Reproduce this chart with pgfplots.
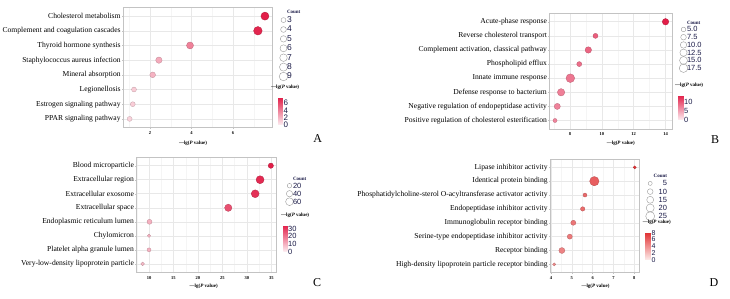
\documentclass[border=0pt]{standalone}
\usepackage{fontspec}
\setmainfont{Liberation Serif}
\setsansfont{Liberation Sans}
\usepackage{pgfplots}
\pgfplotsset{compat=1.18}

\definecolor{gridmaj}{RGB}{232,232,232}
\definecolor{gridmin}{RGB}{245,245,245}
\definecolor{frame}{RGB}{195,195,195}
\definecolor{navy}{RGB}{25,25,70}

\newcommand{\lgp}{\bfseries —lg(\textit{P} value)}

\pgfplotsset{
  colormap={pinkred}{rgb255=(253,238,242) rgb255=(226,30,72)},
  colormap={salmon}{rgb255=(253,238,236) rgb255=(225,50,52)},
  enrich/.style={
    scale only axis,
    anchor=north west,
    axis line style={draw=frame, line width=0.7pt},
    xmajorgrids, xminorgrids, ymajorgrids,
    major grid style={draw=gridmaj, line width=0.55pt},
    minor grid style={draw=gridmin, line width=0.4pt},
    ymin=0.4, ymax=8.6, ytick={1,...,8},
    tick align=outside, major tick length=1.2pt, minor tick length=0pt,
    tick style={draw=frame, line width=0.4pt},
    xtick pos=bottom, ytick pos=left,
    /pgf/number format/assume math mode=true,
    xticklabel style={font=\fontsize{4.5}{5}\selectfont\bfseries, inner sep=1pt, yshift=-1.5pt},
    yticklabel style={font=\fontsize{7.6}{8}\selectfont, inner sep=1pt},
    xlabel={\lgp},
    xlabel style={font=\fontsize{5}{6}\selectfont},
    colorbar,
    colorbar style={
      at={(parent axis.north east)},
      anchor=north west,
      axis line style={draw=none},
      ytick style={draw=none},
      major tick length=0pt,
      yticklabel style={font=\fontsize{8}{8}\sffamily, text=navy, inner sep=0.6pt},
      /pgf/number format/assume math mode=true,
      title={\lgp},
      title style={font=\fontsize{5}{6}\selectfont, anchor=south west, at={(0,1)}, inner sep=0pt},
    },
    legend style={draw=none, fill=none, inner sep=0pt, at={(1,1)}, anchor=north west,
      font=\fontsize{8.5}{9}\sffamily, text=navy,
      nodes={inner sep=0pt, text height=5pt, text depth=0pt}, column sep=2.5pt},
    legend cell align=left,
  },
  bub/.style={scatter, only marks, mark=*, forget plot,
    point meta=\thisrow{x},
    scatter/use mapped color={draw=mapped color!78!black, fill=mapped color},
    visualization depends on={#1*sqrt(\thisrow{c}) \as \rr},
    scatter/@pre marker code/.append style={/tikz/mark size=\rr},
    mark options={line width=0.3pt}},
  cnt/.style={legend image code/.code={\draw[overlay, draw=black!40, fill=none, line width=0.4pt] (0pt,0pt) circle (#1); \path[draw=none, fill=none] (-1pt,-1pt) rectangle (1pt,1pt);}},
  ttl/.style={legend image code/.code={\path[draw=none, fill=none] (-1pt,-1pt) rectangle (1pt,1pt);}},
}

\begin{document}
\begin{tikzpicture}
\useasboundingbox (0pt,0pt) rectangle (730pt,299pt);

% ---------------- A ----------------
\begin{axis}[enrich, at={(123pt,291.7pt)}, width=149pt, height=120.4pt,
  xmin=0.7, xmax=7.88, xtick={2,4,6}, minor xtick={1,3,5,7},
  colormap name=pinkred, point meta min=0, point meta max=7.54,
  yticklabels={PPAR signaling pathway, Estrogen signaling pathway, Legionellosis, Mineral absorption, Staphylococcus aureus infection, Thyroid hormone synthesis, Complement and coagulation cascades, Cholesterol metabolism},
  xlabel style={at={(axis description cs:0.47,0)}, anchor=center, yshift=-15.6pt},
  colorbar shift/.style={xshift=6pt, yshift=-90pt},
  colorbar style={width=4.7pt, height=27.7pt, ytick={0,2,4,6},
    title style={xshift=-7pt, yshift=1.5pt}},
  legend style={xshift=10.3pt, yshift=-0.7pt, row sep=4.4pt},
]
\addplot[bub=1.43] table {
x y c
7.54 8 8
7.20 7 9
3.93 6 6
2.43 5 5
2.13 4 4
1.23 3 3
1.17 2 3
1.02 1 3
};
\addlegendimage{ttl}\addlegendentry{\fontsize{5}{5}\rmfamily\bfseries Count}
\addlegendimage{cnt=2.48pt}\addlegendentry{3}
\addlegendimage{cnt=2.86pt}\addlegendentry{4}
\addlegendimage{cnt=3.2pt}\addlegendentry{5}
\addlegendimage{cnt=3.5pt}\addlegendentry{6}
\addlegendimage{cnt=3.78pt}\addlegendentry{7}
\addlegendimage{cnt=4.04pt}\addlegendentry{8}
\addlegendimage{cnt=4.29pt}\addlegendentry{9}
\end{axis}

% ---------------- B ----------------
\begin{axis}[enrich, at={(549.3pt,285.7pt)}, width=123.4pt, height=115.7pt,
  xmin=6.7, xmax=14.45, xtick={8,10,12,14}, minor xtick={7,9,11,13},
  colormap name=pinkred, point meta min=0, point meta max=14.0,
  yticklabels={Positive regulation of cholesterol esterification, Negative regulation of endopeptidase activity, Defense response to bacterium, Innate immune response, Phospholipid efflux, {Complement activation, classical pathway}, Reverse cholesterol transport, Acute-phase response},
  xlabel style={at={(axis description cs:0.58,0)}, anchor=center, yshift=-14pt},
  colorbar shift/.style={xshift=5.3pt, yshift=-81.7pt},
  colorbar style={width=5.3pt, height=25pt, ytick={0,5,10},
    yticklabel style={font=\fontsize{7.5}{8}\sffamily},
    title style={xshift=-3pt, yshift=1.5pt}},
  legend style={xshift=9.6pt, yshift=-5.7pt, row sep=2.75pt, font=\fontsize{7.5}{8}\sffamily},
]
\addplot[bub=1.025] table {
x y c
14.00 8 10
9.60 7 6
9.15 6 10
8.58 5 6
8.02 4 18
7.44 3 13
7.20 2 9
7.06 1 4
};
\addlegendimage{ttl}\addlegendentry{\fontsize{5}{5}\rmfamily\bfseries Count}
\addlegendimage{cnt=2.29pt}\addlegendentry{5.0}
\addlegendimage{cnt=2.81pt}\addlegendentry{7.5}
\addlegendimage{cnt=3.24pt}\addlegendentry{10.0}
\addlegendimage{cnt=3.62pt}\addlegendentry{12.5}
\addlegendimage{cnt=3.97pt}\addlegendentry{15.0}
\addlegendimage{cnt=4.29pt}\addlegendentry{17.5}
\end{axis}

% ---------------- C ----------------
\begin{axis}[enrich, at={(136.3pt,141.7pt)}, width=140.4pt, height=115pt,
  xmin=7.4, xmax=36.1, xtick={10,15,...,35}, minor xtick={7.5,12.5,...,32.5},
  colormap name=pinkred, point meta min=0, point meta max=34.9,
  yticklabels={Very-low-density lipoprotein particle, Platelet alpha granule lumen, Chylomicron, Endoplasmic reticulum lumen, Extracellular space, Extracellular exosome, Extracellular region, Blood microparticle},
  xlabel style={at={(axis description cs:0.48,0)}, anchor=center, yshift=-13.7pt},
  colorbar shift/.style={xshift=6.6pt, yshift=-67.7pt},
  colorbar style={width=4pt, height=26.7pt, ytick={0,10,20,30},
    yticklabel style={font=\fontsize{7.5}{8}\sffamily},
    title style={xshift=-2.3pt, yshift=1.5pt}},
  legend style={xshift=11.6pt, yshift=-17.7pt, row sep=3pt, font=\fontsize{7.5}{8}\sffamily},
]
\addplot[bub=0.5] table {
x y c
34.9 8 28
32.7 7 64
31.7 6 62
26.2 5 53
10.1 4 25
10.0 3 11
10.0 2 16
8.7 1 14
};
\addlegendimage{ttl}\addlegendentry{\fontsize{5}{5}\rmfamily\bfseries Count}
\addlegendimage{cnt=2.24pt}\addlegendentry{20}
\addlegendimage{cnt=3.16pt}\addlegendentry{40}
\addlegendimage{cnt=3.87pt}\addlegendentry{60}
\end{axis}

% ---------------- D ----------------
\begin{axis}[enrich, at={(550pt,140pt)}, width=89.3pt, height=113.7pt,
  xmin=3.95, xmax=8.24, xtick={4,...,8}, minor xtick={4.5,5.5,6.5,7.5},
  colormap name=salmon, point meta min=0, point meta max=8.02,
  yticklabels={High-density lipoprotein particle receptor binding, Receptor binding, Serine-type endopeptidase inhibitor activity, Immunoglobulin receptor binding, Endopeptidase inhibitor activity, Phosphatidylcholine-sterol O-acyltransferase activator activity, Identical protein binding, Lipase inhibitor activity},
  xlabel style={at={(axis description cs:0.51,0)}, anchor=center, yshift=-13.3pt},
  colorbar shift/.style={xshift=5.7pt, yshift=-73.7pt},
  colorbar style={width=5.7pt, height=27.3pt, ytick={0,2,4,6,8},
    yticklabel style={font=\fontsize{7}{7}\sffamily},
    title style={xshift=-2.3pt, yshift=1.5pt}},
  legend style={xshift=9.7pt, yshift=-13.5pt, row sep=3.2pt, font=\fontsize{7.5}{8}\sffamily},
  legend cell align=right,
]
\addplot[bub=0.9] table {
x y c
8.02 8 3
6.08 7 27
5.63 6 5
5.52 5 6
5.07 4 8
4.90 3 8
4.52 2 11
4.15 1 3
};
\addlegendimage{ttl}\addlegendentry{\fontsize{5}{5}\rmfamily\bfseries Count}
\addlegendimage{cnt=2.01pt}\addlegendentry{5}
\addlegendimage{cnt=2.85pt}\addlegendentry{10}
\addlegendimage{cnt=3.49pt}\addlegendentry{15}
\addlegendimage{cnt=4.02pt}\addlegendentry{20}
\addlegendimage{cnt=4.5pt}\addlegendentry{25}
\end{axis}

\node[font=\fontsize{12}{12}\selectfont] at (317.7pt,160pt) {A};
\node[font=\fontsize{12}{12}\selectfont] at (715pt,159pt) {B};
\node[font=\fontsize{12}{12}\selectfont] at (317pt,16.3pt) {C};
\node[font=\fontsize{12}{12}\selectfont] at (714pt,16.3pt) {D};
\end{tikzpicture}
\end{document}
